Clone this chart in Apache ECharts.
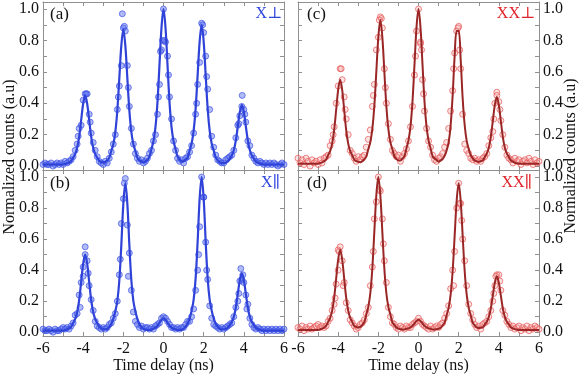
<!DOCTYPE html>
<html>
<head>
<meta charset="utf-8">
<script src="https://cdn.jsdelivr.net/npm/echarts@6/dist/echarts.min.js"></script>
<style>
  html, body { margin: 0; padding: 0; background: #fff; }
  #chart { width: 581px; height: 375px; }
</style>
</head>
<body>
<div id="chart"></div>
<script>
// time delay axis (ns), -6.0 ... 6.0
const time = [
  -6.0,-5.9,-5.8,-5.7,-5.6,-5.5,-5.4,-5.3,-5.2,-5.1,
  -5.0,-4.9,-4.8,-4.7,-4.6,-4.5,-4.4,-4.3,-4.2,-4.1,
  -4.0,-3.9,-3.8,-3.7,-3.6,-3.5,-3.4,-3.3,-3.2,-3.1,
  -3.0,-2.9,-2.8,-2.7,-2.6,-2.5,-2.4,-2.3,-2.2,-2.1,
  -2.0,-1.9,-1.8,-1.7,-1.6,-1.5,-1.4,-1.3,-1.2,-1.1,
  -1.0,-0.9,-0.8,-0.7,-0.6,-0.5,-0.4,-0.3,-0.2,-0.1,
  0.0,0.1,0.2,0.3,0.4,0.5,0.6,0.7,0.8,0.9,
  1.0,1.1,1.2,1.3,1.4,1.5,1.6,1.7,1.8,1.9,
  2.0,2.1,2.2,2.3,2.4,2.5,2.6,2.7,2.8,2.9,
  3.0,3.1,3.2,3.3,3.4,3.5,3.6,3.7,3.8,3.9,
  4.0,4.1,4.2,4.3,4.4,4.5,4.6,4.7,4.8,4.9,
  5.0,5.1,5.2,5.3,5.4,5.5,5.6,5.7,5.8,5.9,
  6.0
];

// (a) X perpendicular
const pointsA = [
  .01,.02,.01,.01,.02,.00,.01,.02,.01,.02,
  .01,.03,.02,.03,.04,.06,.10,.14,.24,.26,
  .42,.46,.46,.33,.21,.15,.10,.06,.03,.02,
  .01,.03,.02,.05,.09,.14,.20,.36,.51,.64,
  .88,.86,.64,.38,.24,.14,.08,.05,.03,.04,
  .02,.03,.05,.08,.10,.16,.20,.33,.52,.74,
  1.00,.79,.70,.44,.30,.16,.10,.05,.03,.04,
  .02,.05,.06,.09,.13,.21,.33,.52,.66,.91,
  .85,.70,.49,.36,.19,.12,.07,.04,.03,.02,
  .02,.04,.05,.06,.07,.10,.18,.26,.32,.38,
  .36,.28,.16,.13,.07,.05,.03,.02,.03,.02,
  .01,.02,.01,.02,.01,.02,.01,.00,.01,.02,
  .01
];
const extraA = [[-2.05,.97],[-1.95,.89],[3.92,.45],[-0.05,.80],[0.05,.80],[1.95,.90],[-3.85,.46],[-0.15,.73],
  [-4.25,.19],[-3.65,.28],[-2.25,.44],[-1.75,.50],[-0.25,.44],[0.25,.58],[1.65,.40],[2.15,.57],[3.75,.27],[4.05,.33]];
const fitA = [
  .01,.01,.01,.01,.01,.01,.01,.01,.01,.01,
  .01,.013,.017,.023,.032,.054,.076,.116,.186,.292,
  .397,.45,.397,.292,.186,.116,.076,.054,.032,.026,
  .023,.026,.036,.053,.096,.139,.216,.354,.56,.767,
  .87,.767,.56,.354,.216,.139,.096,.053,.036,.03,
  .023,.028,.04,.06,.109,.159,.248,.406,.644,.881,
  1.0,.881,.644,.406,.248,.159,.109,.06,.043,.031,
  .03,.041,.055,.099,.144,.224,.366,.58,.793,.90,
  .793,.58,.366,.224,.144,.099,.055,.037,.024,.019,
  .019,.021,.029,.048,.067,.101,.162,.253,.344,.39,
  .344,.253,.162,.101,.067,.048,.029,.021,.016,.013,
  .01,.01,.01,.01,.01,.01,.01,.01,.01,.01,
  .01
];

// (b) X parallel
const pointsB = [
  .02,.01,.01,.02,.01,.00,.02,.01,.01,.02,
  .03,.02,.03,.02,.04,.06,.11,.12,.24,.32,
  .36,.50,.46,.30,.21,.14,.07,.04,.03,.02,
  .03,.02,.03,.05,.06,.09,.12,.20,.37,.70,
  .86,.99,.69,.51,.27,.13,.07,.05,.03,.04,
  .02,.03,.03,.02,.03,.02,.04,.05,.06,.09,
  .10,.09,.07,.05,.03,.03,.02,.03,.02,.03,
  .03,.05,.07,.07,.10,.15,.27,.40,.68,1.00,
  .87,.58,.34,.17,.09,.05,.04,.03,.02,.03,
  .02,.03,.04,.05,.06,.10,.16,.20,.33,.34,
  .32,.24,.18,.09,.05,.03,.02,.03,.02,.01,
  .02,.01,.02,.01,.02,.01,.02,.01,.02,.01,
  .02
];
const extraB = [[-3.9,.55],[3.85,.41],[3.95,.37],[-1.95,.96],[2.0,.87],[-4.0,.42],
  [-4.15,.16],[-3.75,.38],[-2.15,.47],[-1.75,.36],[1.75,.50],[2.15,.40],[3.75,.25],[4.15,.15]];
const fitB = [
  .01,.01,.01,.01,.01,.01,.01,.01,.01,.01,
  .01,.013,.017,.025,.035,.059,.084,.128,.206,.324,
  .441,.50,.441,.324,.206,.128,.084,.059,.035,.025,
  .019,.019,.021,.034,.053,.086,.134,.20,.333,.561,
  .827,.96,.827,.561,.333,.20,.134,.086,.053,.034,
  .022,.017,.015,.014,.018,.022,.029,.042,.061,.08,
  .09,.08,.061,.042,.029,.022,.018,.014,.015,.017,
  .022,.035,.055,.089,.139,.208,.347,.584,.861,1.0,
  .861,.584,.347,.208,.139,.089,.055,.035,.022,.019,
  .019,.021,.029,.047,.066,.099,.158,.247,.336,.38,
  .336,.247,.158,.099,.066,.047,.029,.021,.016,.013,
  .01,.01,.01,.01,.01,.01,.01,.01,.01,.01,
  .01
];

// (c) XX perpendicular
const pointsC = [
  .05,.02,.04,.01,.05,.03,.00,.04,.02,.03,
  .01,.04,.02,.05,.06,.07,.13,.16,.25,.40,
  .51,.62,.55,.44,.30,.20,.10,.08,.05,.03,
  .06,.04,.06,.07,.12,.17,.23,.38,.52,.74,
  .82,.95,.88,.62,.40,.27,.17,.10,.08,.06,
  .07,.03,.06,.08,.11,.16,.25,.38,.58,.86,
  1.00,.78,.55,.35,.24,.16,.12,.07,.04,.03,
  .05,.06,.08,.12,.15,.24,.35,.48,.72,.86,
  .89,.62,.33,.14,.10,.08,.05,.04,.05,.03,
  .04,.03,.05,.06,.08,.13,.18,.22,.40,.47,
  .41,.29,.20,.12,.07,.05,.04,.02,.05,.03,
  .04,.01,.03,.04,.02,.05,.03,.01,.04,.02,
  .03
];
const extraC = [[-3.85,.62],[-1.85,.94],[0.1,.79],[0.15,.74],[1.97,.88],[3.9,.45],[-1.95,.93],
  [-4.25,.20],[-3.65,.36],[-2.25,.45],[-1.65,.50],[-0.15,.70],[0.25,.46],[1.75,.62],[2.05,.74],[3.75,.30],[4.05,.36]];
const fitC = [
  .015,.015,.015,.015,.015,.015,.015,.015,.015,.015,
  .015,.019,.023,.031,.042,.069,.095,.143,.229,.357,
  .486,.55,.486,.357,.229,.143,.095,.069,.042,.031,
  .027,.025,.031,.042,.061,.107,.152,.235,.381,.601,
  .82,.93,.82,.601,.381,.235,.152,.107,.061,.046,
  .036,.036,.048,.064,.114,.163,.251,.409,.645,.882,
  1.0,.882,.645,.409,.251,.163,.114,.064,.048,.039,
  .028,.035,.045,.065,.10,.15,.26,.45,.70,.86,
  .86,.68,.43,.26,.16,.11,.07,.05,.035,.03,
  .027,.031,.036,.058,.079,.117,.185,.287,.389,.44,
  .389,.287,.185,.117,.079,.058,.036,.028,.021,.018,
  .015,.015,.015,.015,.015,.015,.015,.015,.015,.015,
  .015
];

// (d) XX parallel
const pointsD = [
  .03,.02,.04,.01,.03,.02,.04,.02,.03,.04,
  .05,.03,.04,.03,.04,.07,.09,.14,.18,.31,
  .40,.55,.46,.32,.19,.14,.08,.06,.04,.02,
  .03,.05,.06,.08,.12,.16,.30,.42,.73,.84,
  1.00,.91,.73,.46,.32,.16,.10,.06,.05,.03,
  .02,.04,.03,.02,.04,.03,.03,.05,.06,.07,
  .09,.07,.05,.04,.03,.02,.04,.02,.03,.04,
  .03,.05,.06,.09,.12,.17,.28,.40,.52,.80,
  .96,.83,.60,.46,.30,.18,.12,.08,.05,.03,
  .04,.02,.05,.06,.07,.10,.14,.20,.30,.37,
  .37,.27,.14,.11,.07,.05,.03,.04,.02,.03,
  .04,.01,.03,.02,.04,.01,.03,.02,.04,.03,
  .02
];
const extraD = [[-4.0,.53],[-1.95,.92],[2.05,.83],[3.85,.36],[-3.95,.52],
  [-4.15,.22],[-3.75,.30],[-2.25,.52],[-1.75,.57],[1.75,.30],[2.15,.72],[3.75,.25],[4.05,.33]];
const fitD = [
  .015,.015,.015,.015,.015,.015,.015,.015,.015,.015,
  .015,.019,.023,.03,.041,.067,.092,.139,.221,.345,
  .468,.53,.468,.345,.221,.139,.092,.067,.041,.034,
  .03,.034,.047,.064,.114,.163,.251,.409,.645,.882,
  1.0,.882,.645,.409,.251,.163,.114,.064,.047,.03,
  .023,.02,.017,.018,.022,.025,.031,.041,.057,.072,
  .08,.072,.057,.041,.031,.025,.022,.018,.017,.02,
  .022,.029,.043,.062,.11,.157,.242,.393,.62,.847,
  .96,.847,.62,.393,.242,.157,.11,.062,.044,.031,
  .027,.029,.032,.05,.067,.098,.153,.236,.319,.36,
  .319,.236,.153,.098,.067,.05,.032,.025,.02,.017,
  .015,.015,.015,.015,.015,.015,.015,.015,.015,.015,
  .015
];

const panelLabels = ['(a)', '(b)', '(c)', '(d)'];
const curveNames = ['X\u22A5', 'X\u2225', 'XX\u22A5', 'XX\u2225'];

const serif = '"Liberation Serif", "DejaVu Serif", serif';
const axisGray = '#909090';
const blue = { fill: 'rgba(92,112,238,0.6)', border: 'rgba(52,74,226,0.8)', line: '#2f43d8', text: '#3048dc', lw: 2.2 };
const red = { fill: 'rgba(246,165,165,0.4)', border: 'rgba(228,82,82,0.85)', line: '#9a2626', text: '#e0232a', lw: 2 };

const points = [pointsA, pointsB, pointsC, pointsD];
const extras = [extraA, extraB, extraC, extraD];
const fits = [fitA, fitB, fitC, fitD];
const colors = [blue, blue, red, red];

const grids = [
  {left: 43, top: 2, width: 241, height: 168},
  {left: 43, top: 170, width: 241, height: 168},
  {left: 298, top: 2, width: 241, height: 168},
  {left: 298, top: 170, width: 241, height: 168}
];

function xAxisFor(g, pos, labels) {
  return {
    type: 'value', gridIndex: g, position: pos, min: -6, max: 6, interval: 1,
    axisLine: {show: true, onZero: false, lineStyle: {color: axisGray, width: 1}},
    axisTick: {show: true, inside: true, length: 4, lineStyle: {color: axisGray}},
    axisLabel: {
      show: labels, margin: 5, color: '#111', fontFamily: serif, fontSize: 16,
      formatter: v => (Math.round(v) % 2 === 0 ? String(Math.round(v)) : '')
    },
    splitLine: {show: false},
    name: labels ? 'Time delay (ns)' : '',
    nameLocation: 'middle', nameGap: 18,
    nameTextStyle: {color: '#111', fontFamily: serif, fontSize: 16, verticalAlign: 'top'}
  };
}

function yAxisFor(g, pos, labels) {
  return {
    type: 'value', gridIndex: g, position: pos, min: -0.025, max: 1.045, splitNumber: 10,
    axisLine: {show: true, onZero: false, lineStyle: {color: axisGray, width: 1}},
    axisTick: {show: true, inside: true, length: 4, lineStyle: {color: axisGray}},
    axisLabel: {
      show: labels, margin: 4, color: '#111', fontFamily: serif, fontSize: 16,
      showMinLabel: false, showMaxLabel: false,
      formatter: v => {
        const k = Math.round(v * 10);
        return (Math.abs(v * 10 - k) < 1e-6 && k % 2 === 0) ? (k / 10).toFixed(1) : '';
      }
    },
    splitLine: {show: false}
  };
}

const xAxes = [], yAxes = [], series = [];
for (let p = 0; p < 4; p++) {
  const bottomRow = (p === 1 || p === 3);
  const leftCol = (p < 2);
  xAxes.push(xAxisFor(p, 'bottom', bottomRow));
  xAxes.push(xAxisFor(p, 'top', false));
  yAxes.push(yAxisFor(p, 'left', leftCol));
  yAxes.push(yAxisFor(p, 'right', !leftCol));

  const c = colors[p];
  series.push({
    type: 'scatter', xAxisIndex: 2 * p, yAxisIndex: 2 * p,
    data: time.map((t, i) => [t, points[p][i]]).concat(extras[p]),
    symbol: 'circle', symbolSize: 6,
    itemStyle: {color: c.fill, borderColor: c.border, borderWidth: 1},
    z: 2
  });
  series.push({
    type: 'line', xAxisIndex: 2 * p, yAxisIndex: 2 * p,
    data: time.map((t, i) => [t, fits[p][i]]),
    showSymbol: false, smooth: 0.35,
    lineStyle: {color: c.line, width: c.lw},
    z: 3
  });
}

const labelPos = [[50, 15], [50, 184], [307, 15], [307, 184]];
const namePos = [[282, 14], [280, 183], [535, 14], [532, 183]];
const graphics = [];
for (let p = 0; p < 4; p++) {
  graphics.push({
    type: 'text', x: labelPos[p][0], y: labelPos[p][1], z: 10,
    style: {text: panelLabels[p], fill: '#111', font: '17px ' + serif, align: 'left', verticalAlign: 'middle'}
  });
  graphics.push({
    type: 'text', x: namePos[p][0], y: namePos[p][1], z: 10,
    style: {text: curveNames[p], fill: colors[p].text, font: '16px ' + serif, align: 'right', verticalAlign: 'middle'}
  });
}
[[9.5, 157], [571, 156]].forEach(pos => {
  graphics.push({
    type: 'text', x: pos[0], y: pos[1], rotation: Math.PI / 2, z: 10,
    style: {text: 'Normalized counts (a.u)', fill: '#111', font: '16px ' + serif, align: 'center', verticalAlign: 'middle'}
  });
});

const chart = echarts.init(document.getElementById('chart'), null, {renderer: 'canvas'});
chart.setOption({
  animation: false,
  backgroundColor: '#fff',
  textStyle: {fontFamily: serif},
  grid: grids,
  xAxis: xAxes,
  yAxis: yAxes,
  series: series,
  graphic: graphics
});
</script>
</body>
</html>
